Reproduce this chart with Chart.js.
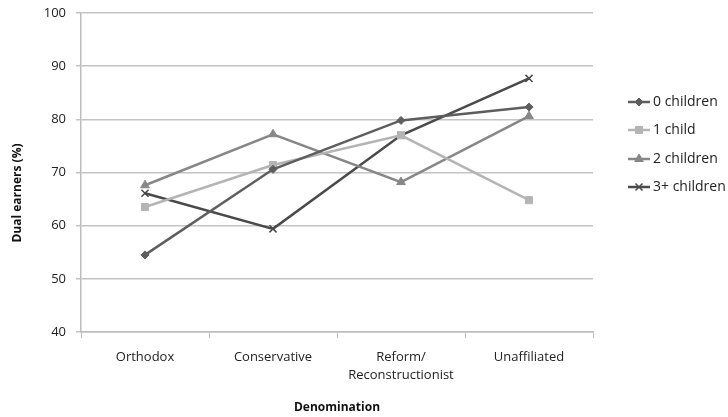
<!DOCTYPE html>
<html>
<head>
<meta charset="utf-8">
<script src="https://cdn.jsdelivr.net/npm/chart.js@4"></script>
<style>
  html, body { margin: 0; padding: 0; background: #fff; }
  #wrap { width: 728px; height: 417px; }
</style>
</head>
<body>
<div id="wrap"><canvas id="chart" width="728" height="417"></canvas></div>
<script>
// Data
const categories = ['Orthodox', 'Conservative', ['Reform/', 'Reconstructionist'], 'Unaffiliated']
const seriesNames = ['0 children', '1 child', '2 children', '3+ children']
const zeroChildren = [54.5, 70.6, 79.8, 82.3]
const oneChild = [63.5, 71.4, 77.0, 64.8]
const twoChildren = [67.6, 77.2, 68.2, 80.6]
const threePlus = [66.1, 59.4, 77.0, 87.7]
const yTicks = [40, 50, 60, 70, 80, 90, 100]
const yTitle = 'Dual earners (%)'
const xTitle = 'Denomination'

const colors = ['#5e5e5e', '#b4b4b4', '#878787', '#4a4a4a']
const markers = ['rectRot', 'rect', 'triangle', 'crossRot']
const markerSize = [4, 5, 5, 5]
const font = 'Open Sans'

const datasets = [zeroChildren, oneChild, twoChildren, threePlus].map((vals, i) => ({
  label: seriesNames[i],
  data: vals,
  borderColor: colors[i],
  backgroundColor: colors[i],
  borderWidth: 2.5,
  pointStyle: markers[i],
  pointRadius: markerSize[i],
  pointBorderWidth: i === 3 ? 1.5 : 1,
  tension: 0
}))

// legend on the right (line with marker) and the y title, drawn like the original
const extras = {
  id: 'extras',
  afterDraw(chart) {
    const ctx = chart.ctx
    const x0 = 628, x1 = 650
    const rows = [102, 130, 159, 187]
    ctx.save()
    datasets.forEach((ds, i) => {
      const y = rows[i]
      ctx.strokeStyle = ds.borderColor
      ctx.lineWidth = 2.5
      ctx.beginPath()
      ctx.moveTo(x0, y)
      ctx.lineTo(x1, y)
      ctx.stroke()
      ctx.lineWidth = ds.pointBorderWidth
      ctx.fillStyle = ds.backgroundColor
      Chart.helpers.drawPoint(ctx, { pointStyle: ds.pointStyle, radius: ds.pointRadius, borderWidth: ds.pointBorderWidth }, (x0 + x1) / 2, y)
      ctx.fillStyle = '#222'
      ctx.font = '14px "' + font + '"'
      ctx.textBaseline = 'middle'
      ctx.textAlign = 'left'
      ctx.fillText(ds.label, x1 + 3, y)
    })

    ctx.translate(18, 193)
    ctx.rotate(-Math.PI / 2)
    ctx.fillStyle = '#111'
    ctx.font = 'bold 12px "' + font + '"'
    ctx.textAlign = 'center'
    ctx.textBaseline = 'middle'
    ctx.fillText(yTitle, 0, 0)
    ctx.restore()
  }
}

new Chart(document.getElementById('chart'), {
  type: 'line',
  data: { labels: categories, datasets: datasets },
  plugins: [extras],
  options: {
    responsive: false,
    animation: false,
    layout: { padding: { left: 0, right: 135, top: 13, bottom: 0 } },
    plugins: {
      legend: { display: false },
      tooltip: { enabled: false }
    },
    scales: {
      x: {
        offset: true,
        afterFit: s => { s.height = 85 },
        grid: { offset: true, drawOnChartArea: false, color: '#bdbdbd', tickLength: 6, lineWidth: 1 },
        border: { color: '#bdbdbd', width: 1.5 },
        ticks: { color: '#222', font: { family: font, size: 13, lineHeight: 1.4 }, padding: 10, maxRotation: 0 },
        title: { display: true, text: xTitle, color: '#111', font: { family: font, size: 12, weight: 'bold' }, padding: { top: 4, bottom: 2 } }
      },
      y: {
        min: 40,
        max: 100,
        afterFit: s => { s.width = 81; s.paddingTop = 0; s.paddingBottom = 0 },
        afterBuildTicks: s => { s.ticks = yTicks.map(v => ({ value: v })) },
        grid: { color: '#c4c4c4', lineWidth: 1.5, tickLength: 5 },
        border: { color: '#bdbdbd', width: 1.5 },
        ticks: { color: '#222', font: { family: font, size: 13 }, padding: 10 }
      }
    }
  }
})
</script>
</body>
</html>
